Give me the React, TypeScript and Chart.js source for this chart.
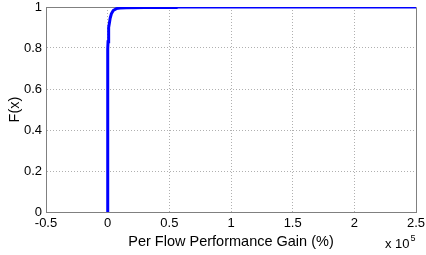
import React, { useEffect, useRef } from "react";
import { Chart, registerables } from "chart.js";

Chart.register(...registerables);

// CDF of per-flow performance gain, x in units of 10^5 %
const gainX = [0, 0, 0.001, 0.003, 0.006, 0.01, 0.015, 0.02, 0.03, 0.045, 0.07, 0.1, 0.15, 0.3, 0.56, 0.57, 2.5];
const cdfY = [0, 0.78, 0.795, 0.83, 0.87, 0.9, 0.925, 0.945, 0.967, 0.983, 0.992, 0.995, 0.996, 0.997, 0.997, 1.0, 1.0];

const xTickMin = -0.5;
const xTickMax = 2.5;
const xTickStep = 0.5;
const yTickMin = 0;
const yTickMax = 1;
const yTickStep = 0.2;

const xTitle = "Per Flow Performance Gain (%)";
const yTitle = "F(x)";
const exponentBase = "x 10";
const exponentPower = "5";

const FONT = "'Liberation Sans', Arial, Helvetica, sans-serif";
const AXIS_COLOR = "#808080";

const boxPlugin = {
  id: "matlabBox",
  beforeDatasetsDraw(chart: any) {
    const { ctx, chartArea } = chart;
    const { left, right, top, bottom } = chartArea;
    ctx.save();
    ctx.strokeStyle = AXIS_COLOR;
    ctx.lineWidth = 1;
    ctx.beginPath();
    ctx.moveTo(left, top + 0.5);
    ctx.lineTo(right + 0.5, top + 0.5);
    ctx.lineTo(right + 0.5, bottom);
    ctx.stroke();
    ctx.restore();
  },
  afterDraw(chart: any) {
    const { ctx, chartArea } = chart;
    ctx.save();
    ctx.fillStyle = "#000";
    ctx.textBaseline = "alphabetic";
    ctx.font = `13px ${FONT}`;
    const baseW = ctx.measureText(exponentBase).width;
    const x0 = chartArea.right - 31;
    const y0 = chartArea.bottom + 36;
    ctx.fillText(exponentBase, x0, y0);
    ctx.font = `9px ${FONT}`;
    ctx.fillText(exponentPower, x0 + baseW + 1, y0 - 7);
    ctx.restore();
  },
};

export default function App() {
  const ref = useRef<HTMLCanvasElement | null>(null);

  useEffect(() => {
    if (!ref.current) return;
    const points = gainX.map((x, i) => ({ x, y: cdfY[i] }));
    const chart = new Chart(ref.current, {
      type: "line",
      data: {
        datasets: [
          {
            data: points,
            borderColor: "#0000ff",
            borderWidth: 3,
            pointRadius: 0,
            tension: 0,
            fill: false,
            clip: { left: 2, right: 0, top: 0, bottom: 0 } as any,
          },
        ],
      },
      options: {
        animation: false,
        responsive: false,
        maintainAspectRatio: false,
        layout: { padding: { top: 7, right: 10, left: 0, bottom: 0 } },
        plugins: { legend: { display: false }, tooltip: { enabled: false } },
        scales: {
          x: {
            type: "linear",
            min: xTickMin,
            max: xTickMax,
            ticks: {
              stepSize: xTickStep,
              autoSkip: false,
              maxRotation: 0,
              color: "#000",
              padding: 4,
              font: { family: FONT, size: 13 },
              callback: (v: any) => String(Number(v)),
            },
            grid: {
              color: (c: any) => (c.index === 0 || c.tick?.value === xTickMax ? "rgba(0,0,0,0)" : "#b0b0b0"),
              drawTicks: false,
              lineWidth: 1,
            },
            border: { color: AXIS_COLOR, width: 1, dash: [1, 2] },
            title: {
              display: true,
              text: xTitle,
              color: "#000",
              font: { family: FONT, size: 14.5 },
              padding: { top: 0, bottom: 4 },
            },
            afterFit: (s: any) => {
              s.height = 43;
              s.paddingLeft = 0;
              s.paddingRight = 0;
            },
          },
          y: {
            type: "linear",
            min: yTickMin,
            max: yTickMax,
            ticks: {
              stepSize: yTickStep,
              autoSkip: false,
              color: "#000",
              padding: 4,
              font: { family: FONT, size: 13 },
              callback: (v: any) => String(Math.round(Number(v) * 10) / 10),
            },
            grid: {
              color: (c: any) => (c.index === 0 || c.tick?.value === yTickMax ? "rgba(0,0,0,0)" : "#b0b0b0"),
              drawTicks: false,
              lineWidth: 1,
            },
            border: { color: AXIS_COLOR, width: 1, dash: [1, 2] },
            title: {
              display: true,
              text: yTitle,
              color: "#000",
              font: { family: FONT, size: 14.5 },
              padding: { top: 6, bottom: 0 },
            },
            afterFit: (s: any) => {
              s.width = 46;
              s.paddingTop = 0;
              s.paddingBottom = 0;
            },
          },
        },
      },
      plugins: [boxPlugin],
    });
    return () => chart.destroy();
  }, []);

  return (
    <div style={{ position: "absolute", left: 0, top: 0, width: 426, height: 255, background: "#fff" }}>
      <canvas ref={ref} width={426} height={255} style={{ width: 426, height: 255 }} />
    </div>
  );
}
